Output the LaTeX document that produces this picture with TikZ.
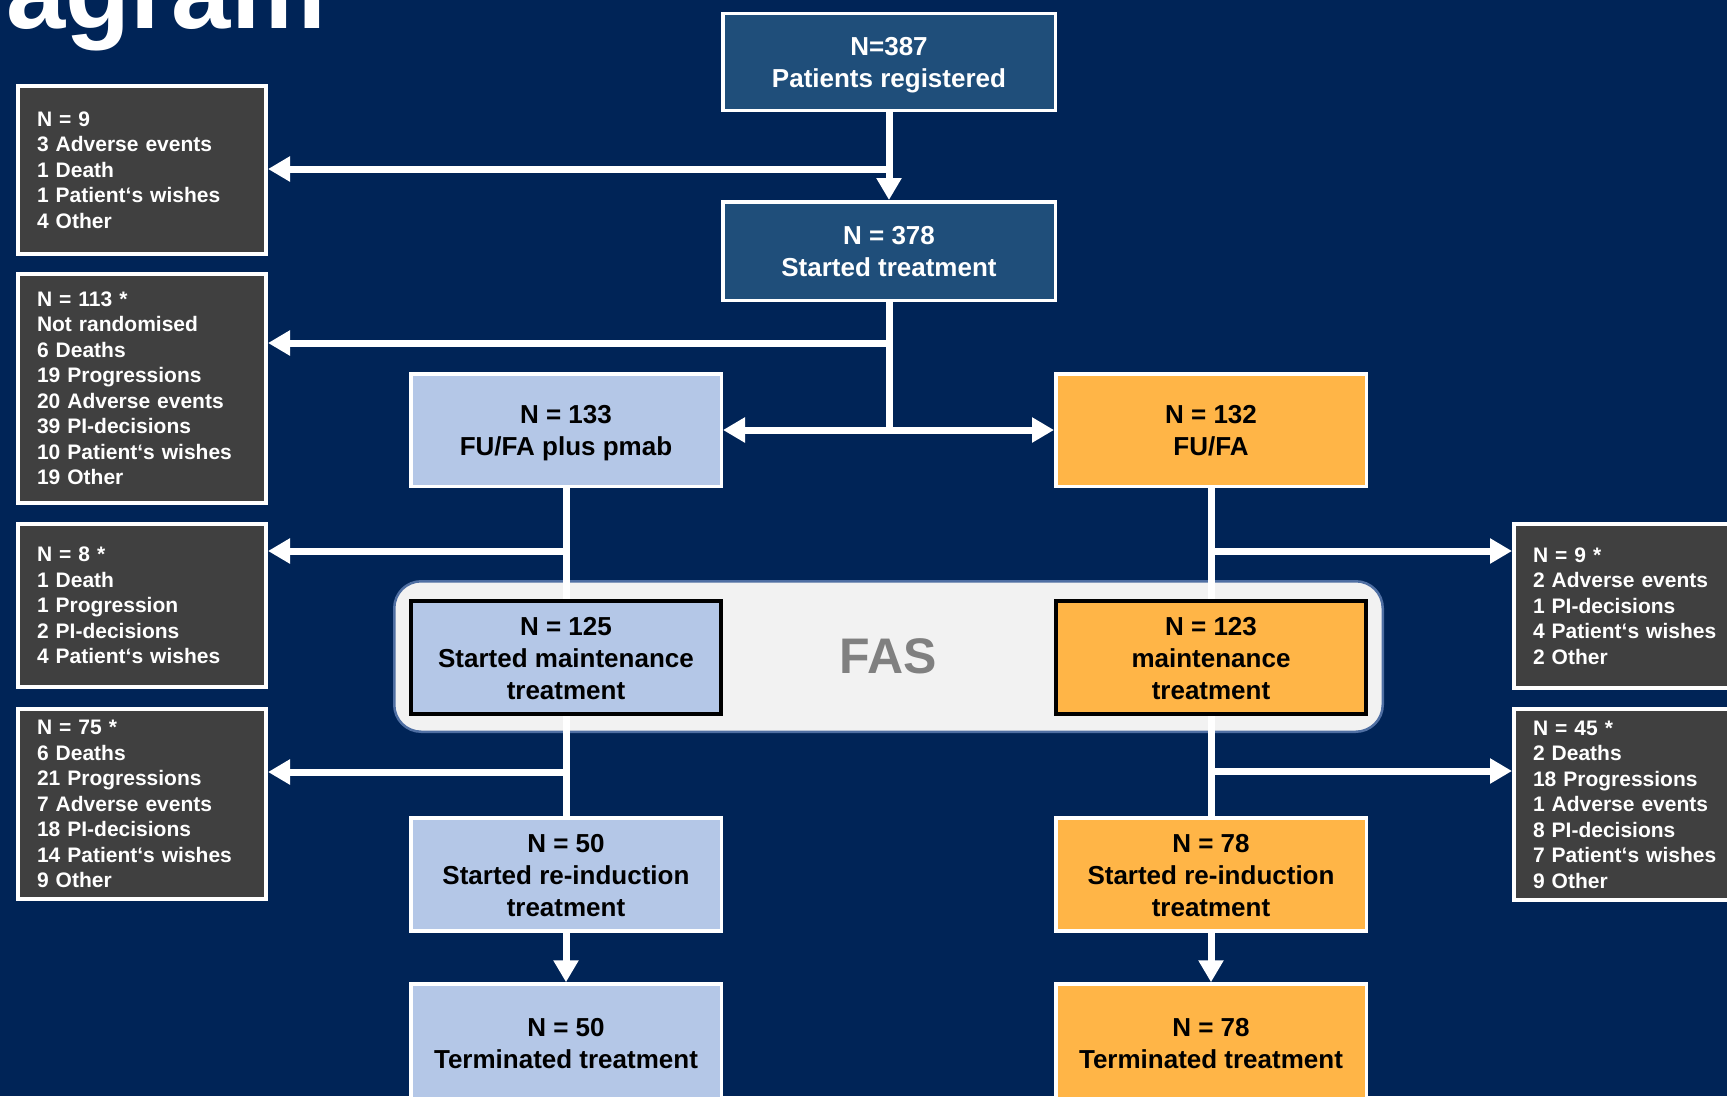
\documentclass[tikz,border=0pt]{standalone}
\usepackage{fontspec}
\setmainfont{Liberation Sans}
\usetikzlibrary{arrows.meta}
\definecolor{navy}{HTML}{002457}
\definecolor{topblue}{HTML}{1F4E7A}
\definecolor{lightblue}{HTML}{B4C7E7}
\definecolor{orangefill}{HTML}{FFB547}
\definecolor{greyfill}{HTML}{404040}
\definecolor{fasfill}{HTML}{F2F2F2}
\definecolor{fasborder}{HTML}{4F6FA3}
\definecolor{fastext}{HTML}{808080}
\newcommand\mytopstrut{\rule{0pt}{25pt}}
\begin{document}
\begin{tikzpicture}[x=1pt,y=-1pt,
 mainbox/.style={draw=white, line width=3.5pt, align=center, font=\fontsize{26}{32}\selectfont\bfseries, inner sep=0pt, minimum width=310.5pt,
   execute at end node={\rule[-5.5pt]{0pt}{5.5pt}}},
 topbox/.style={mainbox, fill=topblue, text=white, minimum width=332.5pt, minimum height=97pt},
 bluebox/.style={mainbox, fill=lightblue, text=black, minimum height=113pt},
 orangebox/.style={mainbox, fill=orangefill, text=black, minimum height=113pt},
 fasinner/.style={draw=black, line width=4pt},
 greybox/.style={draw=white, fill=greyfill, line width=4pt, text=white, align=left, font=\fontsize{21}{25.5}\selectfont\bfseries, text width=210pt, inner xsep=19pt, inner ysep=0pt},
 fasbox/.style={draw=fasborder, fill=fasfill, line width=2.5pt, rounded corners=27pt, minimum width=988.5pt, minimum height=150.5pt, text=fastext, font=\fontsize{50}{50}\selectfont\bfseries},
 conn/.style={draw=white, line width=7pt},
 arr/.style={conn, -{Triangle[width=24pt,length=22pt]}},
 darr/.style={conn, {Triangle[width=24pt,length=22pt]}-{Triangle[width=24pt,length=22pt]}},
]
\useasboundingbox (0,0) rectangle (1727,1096);
\clip (0,0) rectangle (1727,1096);
\fill[navy] (0,0) rectangle (1727,1096);

\node[anchor=base west, inner sep=0pt, text=white, font=\fontsize{106.5}{106.5}\selectfont\bfseries] (title) at (6,28) {agram};

% FAS background
\node[fasbox] (fas) at (888.5,656.5) {FAS};

% main boxes
\node[topbox] (top) at (889,62) {\mytopstrut N=387\\Patients registered};
\node[topbox, minimum height=98.5pt] (start) at (889,251) {\mytopstrut N = 378\\Started treatment};
\node[bluebox, minimum height=112.5pt] (n133) at (566,430) {\mytopstrut N = 133\\FU/FA plus pmab};
\node[orangebox, minimum height=112.5pt] (n132) at (1211,430) {\mytopstrut N = 132\\FU/FA};
\node[bluebox, fasinner] (n125) at (566,657.5) {\mytopstrut N = 125\\Started maintenance\\treatment};
\node[orangebox, fasinner] (n123) at (1211,657.5) {\mytopstrut N = 123\\maintenance\\treatment};
\node[bluebox] (n50) at (566,874.5) {\mytopstrut N = 50\\Started re-induction\\treatment};
\node[orangebox] (n78) at (1211,874.5) {\mytopstrut N = 78\\Started re-induction\\treatment};
\node[bluebox, minimum height=117pt] (t50) at (566,1042.5) {\mytopstrut N = 50\\Terminated treatment};
\node[orangebox, minimum height=117pt] (t78) at (1211,1042.5) {\mytopstrut N = 78\\Terminated treatment};

% grey boxes
\node[greybox, minimum height=168pt] (g1) at (142,170) {N = 9\\3 Adverse events\\1 Death\\1 Patient‘s wishes\\4 Other};
\node[greybox, minimum height=229pt] (g2) at (142,388.5) {N = 113 *\\Not randomised\\6 Deaths\\19 Progressions\\20 Adverse events\\39 PI-decisions\\10 Patient‘s wishes\\19 Other};
\node[greybox, minimum height=163pt] (g3) at (142,605.5) {N = 8 *\\1 Death\\1 Progression\\2 PI-decisions\\4 Patient‘s wishes};
\node[greybox, minimum height=190pt] (g4) at (142,804) {N = 75 *\\6 Deaths\\21 Progressions\\7 Adverse events\\18 PI-decisions\\14 Patient‘s wishes\\9 Other};
\node[greybox, minimum height=164pt] (r1) at (1638,606) {N = 9 *\\2 Adverse events\\1 PI-decisions\\4 Patient‘s wishes\\2 Other};
\node[greybox, minimum height=191pt] (r2) at (1638,804.5) {N = 45 *\\2 Deaths\\18 Progressions\\1 Adverse events\\8 PI-decisions\\7 Patient‘s wishes\\9 Other};

% connectors
\draw[arr] (top) -- (start);
\coordinate (j1) at (889,169);
\draw[arr] (j1) -- (j1 -| g1.east);
\coordinate (j2) at (889,343);
\draw[arr] (j2) -- (j2 -| g2.east);
\coordinate (j3) at (start.center |- n133.center);
\draw[conn] (start) -- (j3);
\draw[darr] (n133) -- (n132);

\draw[conn] (n133) -- (n125);
\draw[conn] (n125) -- (n50);
\draw[arr] (n50) -- (t50);
\coordinate (l1) at (566,551);
\draw[arr] (l1) -- (l1 -| g3.east);
\coordinate (l2) at (566,772);
\draw[arr] (l2) -- (l2 -| g4.east);

\draw[conn] (n132) -- (n123);
\draw[conn] (n123) -- (n78);
\draw[arr] (n78) -- (t78);
\coordinate (k1) at (1211,551);
\draw[arr] (k1) -- (k1 -| r1.west);
\coordinate (k2) at (1211,771);
\draw[arr] (k2) -- (k2 -| r2.west);
\end{tikzpicture}
\end{document}
